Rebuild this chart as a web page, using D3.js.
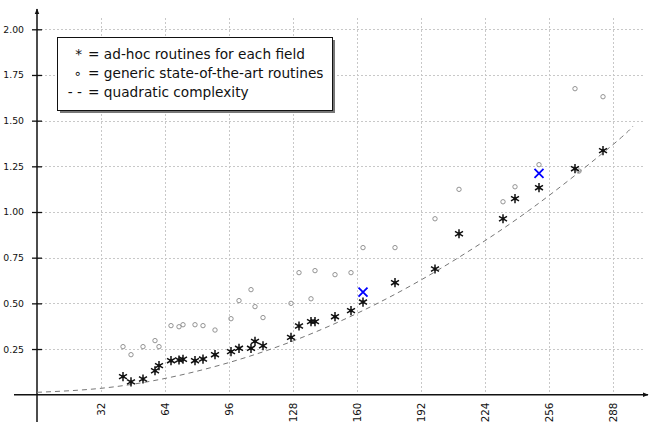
<!DOCTYPE html>
<html>
<head>
<meta charset="utf-8">
<script src="https://cdn.jsdelivr.net/npm/d3@7"></script>
<style>
  body { margin: 0; background: #fff; }
  svg { display: block; }
  text { font-family: "DejaVu Sans", sans-serif; fill: #111; }
</style>
</head>
<body>
<div id="chart"></div>
<script>
// field sizes (primes) and timings
var fieldSizes = [43, 47, 53, 59, 61, 67, 71, 73, 79, 83, 89, 97, 101, 107, 109, 113,
                  127, 131, 137, 139, 149, 157, 163, 179, 199, 211, 233, 239, 251, 269, 283];
var adhocTimes = [0.099, 0.070, 0.086, 0.131, 0.159, 0.186, 0.190, 0.194, 0.186, 0.195, 0.219,
                  0.236, 0.254, 0.254, 0.292, 0.268, 0.314, 0.376, 0.400, 0.400, 0.427, 0.460,
                  0.507, 0.613, 0.688, 0.881, 0.963, 1.073, 1.133, 1.237, 1.336];

var genericSizes = [43, 47, 53, 59, 61, 67, 71, 73, 79, 83, 89, 97, 101, 107, 109, 113,
                    127, 131, 137, 139, 149, 157, 163, 179, 199, 211, 233, 239, 251, 269, 271, 283];
var genericTimes = [0.263, 0.219, 0.263, 0.296, 0.263, 0.378, 0.372, 0.383, 0.383, 0.378, 0.354,
                    0.416, 0.515, 0.575, 0.482, 0.422, 0.500, 0.668, 0.525, 0.679, 0.657, 0.668,
                    0.805, 0.805, 0.963, 1.124, 1.056, 1.138, 1.259, 1.675, 1.224, 1.631];

// the two highlighted points (blue crosses)
var markSizes = [163, 251];
var markTimes = [0.561, 1.212];

// quadratic reference curve
var curveSizes = [0, 32, 64, 96, 128, 160, 192, 224, 256, 288, 298];
var curveTimes = [0.013, 0.035, 0.089, 0.176, 0.294, 0.445, 0.628, 0.843, 1.090, 1.369, 1.470];

var xTicks = [32, 64, 96, 128, 160, 192, 224, 256, 288];
var yTicks = [0.25, 0.5, 0.75, 1.0, 1.25, 1.5, 1.75, 2.0];

var legendLines = [
    { sym: "*", text: "= ad-hoc routines for each field" },
    { sym: "\u2218", text: "= generic state-of-the-art routines" },
    { sym: "- -", text: "= quadratic complexity" }
];

var width = 649, height = 422;

var svg = d3.select("#chart").append("svg")
    .attr("width", width)
    .attr("height", height);

var x = d3.scaleLinear().domain([0, 288]).range([37, 613]);
var y = d3.scaleLinear().domain([0, 2]).range([394.7, 29.3]);

// grid
svg.append("g").selectAll("line")
    .data(yTicks).enter().append("line")
    .attr("x1", x(0)).attr("x2", 645)
    .attr("y1", function(d) { return Math.round(y(d)) + 0.5; })
    .attr("y2", function(d) { return Math.round(y(d)) + 0.5; })
    .attr("stroke", "#c8c8c8").attr("stroke-dasharray", "2,2");

svg.append("g").selectAll("line")
    .data(xTicks).enter().append("line")
    .attr("x1", function(d) { return Math.round(x(d)) + 0.5; })
    .attr("x2", function(d) { return Math.round(x(d)) + 0.5; })
    .attr("y1", 18).attr("y2", y(0))
    .attr("stroke", "#c8c8c8").attr("stroke-dasharray", "2,2");

// arrow heads
var defs = svg.append("defs");
defs.append("marker")
    .attr("id", "arrow")
    .attr("viewBox", "0 0 10 10")
    .attr("refX", 9).attr("refY", 5)
    .attr("markerWidth", 6).attr("markerHeight", 6)
    .attr("markerUnits", "userSpaceOnUse")
    .attr("orient", "auto")
    .append("path").attr("d", "M0,1 L10,5 L0,9 Z").attr("fill", "#111");

// axis lines
svg.append("line")
    .attr("x1", 14).attr("x2", 648)
    .attr("y1", y(0)).attr("y2", y(0))
    .attr("stroke", "#111").attr("stroke-width", 1.5)
    .attr("marker-end", "url(#arrow)");
svg.append("line")
    .attr("x1", x(0)).attr("x2", x(0))
    .attr("y1", 422).attr("y2", 9)
    .attr("stroke", "#111").attr("stroke-width", 1.5)
    .attr("marker-end", "url(#arrow)");

// y axis ticks + labels
var yAxis = svg.append("g")
    .attr("transform", "translate(" + x(0) + ",0)")
    .call(d3.axisLeft(y).tickValues(yTicks).tickSize(5).tickPadding(8)
        .tickFormat(d3.format(".2f")));
yAxis.select(".domain").remove();
yAxis.selectAll(".tick line").attr("x1", -5).attr("x2", 5)
    .attr("stroke", "#111").attr("stroke-width", 1.3);
yAxis.selectAll(".tick text")
    .style("font-family", "DejaVu Sans").style("font-size", "9.3px").attr("fill", "#111");

// x axis labels (rotated)
var xAxis = svg.append("g")
    .attr("transform", "translate(0," + y(0) + ")")
    .call(d3.axisBottom(x).tickValues(xTicks).tickSize(0));
xAxis.select(".domain").remove();
xAxis.selectAll(".tick text")
    .attr("transform", "rotate(-90)")
    .attr("x", -8).attr("y", 0).attr("dy", "0.35em")
    .style("text-anchor", "end")
    .style("font-family", "DejaVu Sans").style("font-size", "10.3px").attr("fill", "#111");

// quadratic curve
var line = d3.line()
    .x(function(d, i) { return x(curveSizes[i]); })
    .y(function(d) { return y(d); })
    .curve(d3.curveNatural);
svg.append("path")
    .datum(curveTimes)
    .attr("d", line)
    .attr("fill", "none")
    .attr("stroke", "#777")
    .attr("stroke-width", 1)
    .attr("stroke-dasharray", "5,4");

// generic routines: small circles
svg.append("g").selectAll("circle")
    .data(genericTimes).enter().append("circle")
    .attr("cx", function(d, i) { return x(genericSizes[i]); })
    .attr("cy", function(d) { return y(d); })
    .attr("r", 2.2)
    .attr("fill", "none")
    .attr("stroke", "#888")
    .attr("stroke-width", 0.9);

// ad-hoc routines: asterisks
var star = "M0,-4.6L0,4.6M-4,-2.3L4,2.3M-4,2.3L4,-2.3";
var stars = svg.append("g").selectAll("g")
    .data(adhocTimes).enter().append("g")
    .attr("transform", function(d, i) {
        return "translate(" + x(fieldSizes[i]) + "," + y(d) + ")";
    });
stars.append("path")
    .attr("d", star)
    .attr("stroke", "#111")
    .attr("stroke-width", 1.5);
stars.append("circle").attr("r", 1.5).attr("fill", "#111");

// highlighted points: blue crosses
svg.append("g").selectAll("path")
    .data(markTimes).enter().append("path")
    .attr("transform", function(d, i) {
        return "translate(" + x(markSizes[i]) + "," + y(d) + ")";
    })
    .attr("d", "M-4.5,-4.5L4.5,4.5M-4.5,4.5L4.5,-4.5")
    .attr("stroke", "#0000ff")
    .attr("stroke-width", 1.8);

// legend box with shadow
var legend = svg.append("g");
legend.append("rect")
    .attr("x", 60).attr("y", 40).attr("width", 275).attr("height", 73)
    .attr("fill", "#777");
legend.append("rect")
    .attr("x", 57.5).attr("y", 37.5).attr("width", 275).attr("height", 73)
    .attr("fill", "#fff").attr("stroke", "#111").attr("stroke-width", 1);

legend.selectAll("text.sym")
    .data(legendLines).enter().append("text")
    .attr("class", "sym")
    .attr("x", 82).attr("y", function(d, i) { return 59 + i * 19; })
    .style("text-anchor", "end")
    .style("font-size", "13.7px")
    .text(function(d) { return d.sym; });

legend.selectAll("text.lbl")
    .data(legendLines).enter().append("text")
    .attr("class", "lbl")
    .attr("x", 88).attr("y", function(d, i) { return 59 + i * 19; })
    .style("font-size", "13.7px")
    .text(function(d) { return d.text; });
</script>
</body>
</html>
